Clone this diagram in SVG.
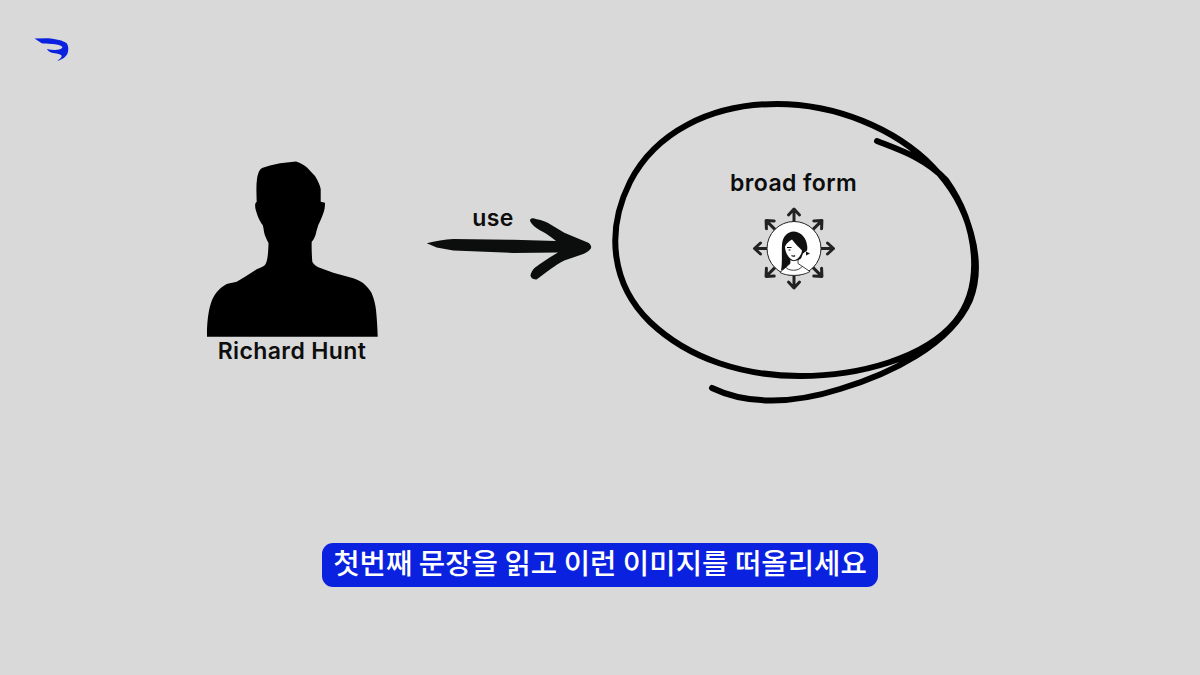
<svg xmlns="http://www.w3.org/2000/svg" width="1200" height="675" viewBox="0 0 1200 675">
<style>
.lbl{font-family:"Inter","Liberation Sans",sans-serif;font-weight:600;fill:#0d0d0d;text-anchor:middle;font-size:23px;letter-spacing:.4px}
.sc{fill:none;stroke:#000;stroke-linecap:round;stroke-linejoin:round}
.ar{fill:none;stroke:#222;stroke-width:3;stroke-linecap:round;stroke-linejoin:round}
</style>
<defs><g id="ray"><path class="ar" d="M0,-27V-39M-5.500,-33.500L0,-39.500L5.500,-33.500"/></g></defs>
<rect width="1200" height="675" fill="#d9d9d9"/>
<g id="logo"><path fill="#0a22e0" d="M34.500,38.500L48,38.300C56,39 63,40.500 66.700,43.300C68.600,46 68.800,50 67.500,53.500C66,57 61.500,60 57.300,60.800C59.800,59 61.800,57.500 61.700,55.800C60.500,53.700 56,53.500 51.700,52.700C49.500,52 47.800,50.500 46.700,49C51,49.800 56,50.300 59,49.500C61.500,48.800 62.800,47.500 62.300,46.700C60,44.800 56,44.200 52,44C47,43.800 44,43.700 41.700,43.300Z"/></g>
<g id="person"><path fill="#000" d="M207,336.700C206.800,325 208,312 211,303C213.500,295 219,288 226.700,284C231,282.500 234,282.500 236.700,281.700L245,276.700L256.700,269.300C260,267.500 263,267 265,265C268,261 268.300,250 268.500,243C266,238 264.500,235 264,231.700C263.500,228 263,226 262.700,225C260,222 257,215 255.500,209C254.800,205 255,203 256.700,201.700C256.500,194 256,186 257,179C258,173 259.500,169.500 262,168L270,165.500L280,163.300L296,161.500C301,163 304,165 307,167.500L315,176C318,181 320,185 320.700,189L320.700,201.700L325,202.700C325,207 324.500,210 323.300,213.300C321.500,218 320,222 318.300,225C317,229 316.500,231 316,233.300C315,237 313.500,240 311.700,241.700C311.500,248 311.800,256 312.300,261.700C313.500,264 316,266 318.300,267.300L333.300,272.700L353.300,278.300C358,279.800 361,281.500 363.300,283.300C367,286.500 370,290 371.700,293.300C374,299 375.500,305 376,310C377,320 377.500,329 377.700,336.700Z"/>
<text class="lbl" x="292" y="359">Richard Hunt</text></g>
<g id="connectors"><path fill="#0c0e0e" d="M426.700,243.300C435,241 445,239.500 453.300,239L513.300,239.800L556,241C552,237.500 547,234 542.300,231.500C537,228.500 531.500,225 530,220.700C530,218.500 532,218 533.300,218.300C538,219.500 543,220.500 547.700,222.700L564.300,232.800L588.300,242.700C591,244.500 591.500,246.500 591,248.300C589,251 586,253 583.300,254L564.300,260.500C559,263 555,266 551,268.800C546,272.500 541,276.500 536.500,279.500C533,279.800 530.200,277.500 530.500,275C531.300,272 532.500,270 534.500,268C542,262.500 550,257 558,252.500L513.300,253L453.300,250.500L436.700,247.500Z"/>
<text class="lbl" x="493" y="226">use</text></g>
<g id="scribble"><path class="sc" stroke-width="6" d="M712,388C745,404 790,405 840,389C890,374 950,345 970,300C985,262 970,205 933,167C895,128 835,104 777,104C710,104 655,133 630,182C605,232 612,285 650,322C690,360 745,376 800,376C860,376 925,358 955,322C985,285 978,225 946,180C925,158 900,150 877,141"/></g>
<g id="broad"><text class="lbl" x="793.500" y="191">broad form</text>
<g transform="translate(794,248.500)"><use href="#ray"/><use href="#ray" transform="rotate(45)"/><use href="#ray" transform="rotate(90)"/><use href="#ray" transform="rotate(135)"/><use href="#ray" transform="rotate(180)"/><use href="#ray" transform="rotate(225)"/><use href="#ray" transform="rotate(270)"/><use href="#ray" transform="rotate(315)"/>
<circle r="27" fill="#fff" stroke="#222" stroke-width="1"/>
<path fill="#111" d="M-13,22C-11.500,14 -12.500,4 -12,-4C-11.500,-12 -6,-17 -0.500,-17C6,-17 11,-12 12.500,-6C13.500,-2 13.500,0 13,2L9,5L7,10L-8,19L-10,21Z"/>
<path fill="#fff" d="M-9,-2C-7,-6 -4,-8 -2,-9C1,-5 5,-1 8,2C7.500,7 3,11.500 0,12C-4,11.500 -9,5 -9,-2Z"/>
<path fill="#fff" stroke="#111" stroke-width="0.800" d="M-14,24C-10,20 -7,18 -4,15L-4,11C-2,12.500 2,12.500 4,11L4,15C8,18 12,20 16,23C8,28 -7,28 -14,24Z"/>
<path fill="none" stroke="#111" stroke-width="0.800" d="M-9,18C-6,23 5,23 8,18"/>
<path fill="#111" d="M12,3L16,5L12,7Z"/>
<path fill="none" stroke="#111" stroke-width="1.200" d="M-7,-1H-2.500M-5.500,1.500H-3.500M-2.500,7C-1,8 0,8 1,7"/>
</g></g>
<g id="caption"><rect x="322" y="543" width="556" height="44" rx="11" fill="#0a22e0"/>
<text x="600" y="574" font-size="28.700" font-weight="500" fill="#fff" text-anchor="middle" font-family="'Noto Sans CJK KR',sans-serif">첫번째 문장을 읽고 이런 이미지를 떠올리세요</text></g>
</svg>
